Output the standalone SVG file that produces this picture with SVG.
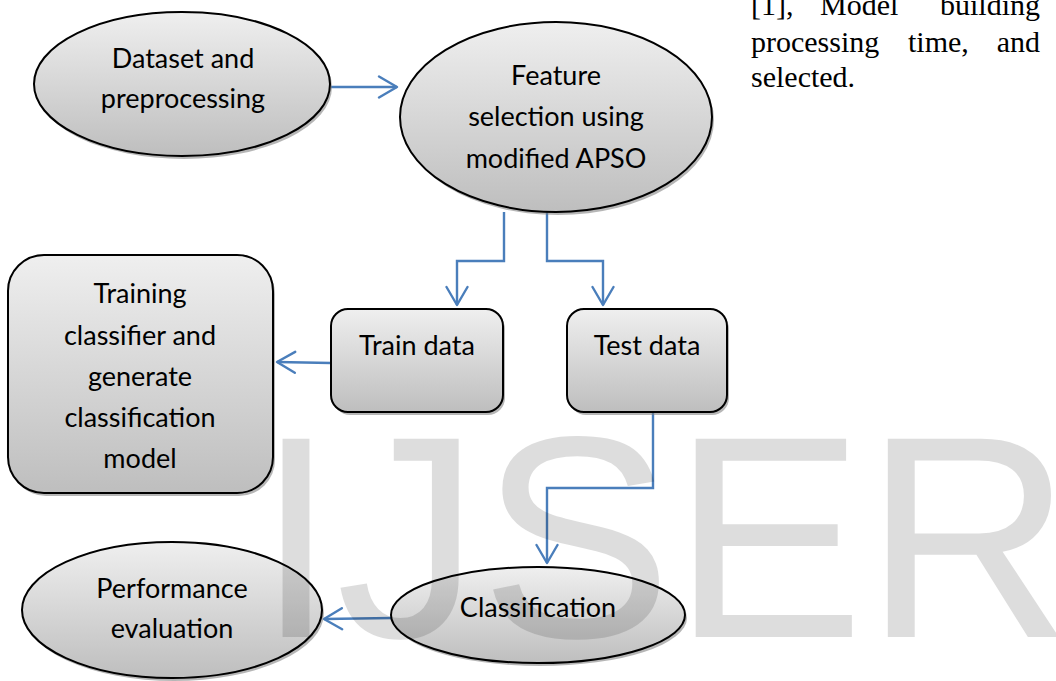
<svg xmlns="http://www.w3.org/2000/svg" width="1056" height="681" viewBox="0 0 1056 681">
<defs>
<linearGradient id="g" x1="0" y1="0" x2="0" y2="1">
<stop offset="0" stop-color="#efefef"/>
<stop offset="1" stop-color="#bebebe"/>
</linearGradient>
<marker id="arr" viewBox="0 0 22 24" refX="20" refY="12" markerWidth="22" markerHeight="24" markerUnits="userSpaceOnUse" orient="auto">
<path d="M2,1.5 L20,12 L2,22.5" fill="none" stroke="#4a7ebb" stroke-width="2.4" stroke-linecap="round" stroke-linejoin="round"/>
</marker>
<style>
.shape{fill:url(#g);stroke:#000;stroke-width:2}
.shadow{fill:#7a7a7a;opacity:0.55}
.lbl{font-family:Lato,"Open Sans","Liberation Sans",sans-serif;font-size:27px;fill:#000;text-anchor:middle}
.con{fill:none;stroke:#4a7ebb;stroke-width:2.4;marker-end:url(#arr)}
.para{font-family:"Liberation Serif","Times New Roman",serif;font-size:30px;fill:#000}
.wm{font-family:"Liberation Sans",Arial,sans-serif;font-size:288px;fill:#000;opacity:0.13}
</style>
</defs>
<rect width="1056" height="681" fill="#fff"/>

<g id="paragraph">
<text class="para" x="751" y="15">[1],</text>
<text class="para" x="820" y="15">Model</text>
<text class="para" x="1040" y="15" text-anchor="end">building</text>
<text class="para" x="751" y="52">processing</text>
<text class="para" x="908" y="52">time,</text>
<text class="para" x="1040" y="52" text-anchor="end">and</text>
<text class="para" x="751" y="87">selected.</text>
</g>

<g id="connectors">
<path class="con" d="M331,87 L397,87"/>
<path class="con" d="M504,212 V261 H457 V305"/>
<path class="con" d="M547,212 V261 H603 V305"/>
<path class="con" d="M331,363 L277,362"/>
<path class="con" d="M653,412 V488 H547 V563"/>
<path class="con" d="M392,618 L324,619"/>
</g>

<g id="node-dataset">
<ellipse class="shadow" cx="184" cy="87" rx="148" ry="72"/>
<ellipse class="shape" cx="182" cy="84" rx="148" ry="72"/>
<text class="lbl" x="183" y="68">Dataset and</text>
<text class="lbl" x="183" y="108">preprocessing</text>
</g>

<g id="node-feature">
<ellipse class="shadow" cx="558" cy="120" rx="156" ry="95"/>
<ellipse class="shape" cx="556" cy="117" rx="156" ry="95"/>
<text class="lbl" x="556" y="85">Feature</text>
<text class="lbl" x="556" y="126">selection using</text>
<text class="lbl" x="556" y="168">modified APSO</text>
</g>

<g id="node-training">
<rect class="shadow" x="10" y="258" width="265" height="238" rx="36"/>
<rect class="shape" x="8" y="255" width="265" height="238" rx="36"/>
<text class="lbl" x="140" y="303">Training</text>
<text class="lbl" x="140" y="345">classifier and</text>
<text class="lbl" x="140" y="386">generate</text>
<text class="lbl" x="140" y="427">classification</text>
<text class="lbl" x="140" y="468">model</text>
</g>

<g id="node-train">
<rect class="shadow" x="333" y="312" width="172" height="103" rx="17"/>
<rect class="shape" x="331" y="309" width="172" height="103" rx="17"/>
<text class="lbl" x="417" y="355">Train data</text>
</g>

<g id="node-test">
<rect class="shadow" x="569" y="312" width="160" height="103" rx="17"/>
<rect class="shape" x="567" y="309" width="160" height="103" rx="17"/>
<text class="lbl" x="647" y="355">Test data</text>
</g>

<g id="node-classification">
<ellipse class="shadow" cx="540" cy="618" rx="147" ry="48"/>
<ellipse class="shape" cx="538" cy="615" rx="147" ry="48"/>
<text class="lbl" x="538" y="617">Classification</text>
</g>

<g id="node-performance">
<ellipse class="shadow" cx="174" cy="613" rx="150" ry="68"/>
<ellipse class="shape" cx="172" cy="610" rx="150" ry="68"/>
<text class="lbl" x="172" y="598">Performance</text>
<text class="lbl" x="172" y="638">evaluation</text>
</g>

<text class="wm" x="256" y="637">IJSER</text>
</svg>
